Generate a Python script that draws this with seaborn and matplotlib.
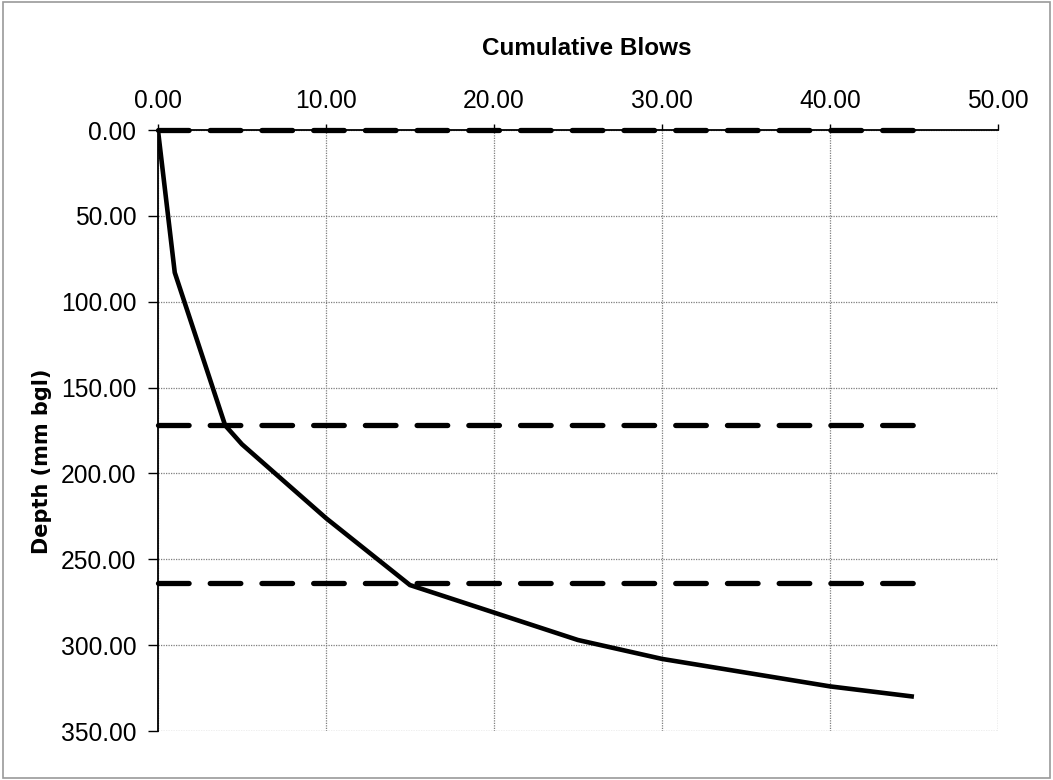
import matplotlib
matplotlib.use("Agg")
import matplotlib.pyplot as plt
import seaborn as sns
import pandas as pd
from matplotlib.patches import Rectangle

# Dynamic cone penetrometer test record
blows = [0, 1, 4, 5, 10, 15, 25, 30, 40, 45]
depth = [0, 83, 172, 183, 226, 265, 297, 308, 324, 330]

# Layer boundaries (mm below ground level) and their drawn extent in blows
layer_depths = [0, 172, 264]
layer_x_end = 45

x_ticks = [0, 10, 20, 30, 40, 50]
y_ticks = [0, 50, 100, 150, 200, 250, 300, 350]

sns.set_theme(style="white")
plt.rcParams["font.family"] = ["Liberation Sans", "DejaVu Sans"]

fig = plt.figure(figsize=(10.53, 7.80), dpi=100)
ax = fig.add_axes([0.150, 0.0628, 0.7977, 0.7705])

df = pd.DataFrame({"blows": blows, "depth": depth})
sns.lineplot(data=df, x="blows", y="depth", sort=False, estimator=None,
             color="black", linewidth=3.3, ax=ax, zorder=3,
             solid_capstyle="butt", solid_joinstyle="miter")

for d in layer_depths:
    ax.plot([0, layer_x_end], [d, d], color="black", linewidth=3.8,
            dashes=(5.8, 4.0), dash_capstyle="round", zorder=4, clip_on=False)

ax.set_xlim(0, 50)
ax.set_ylim(350, 0)
ax.set_xticks(x_ticks)
ax.set_yticks(y_ticks)
ax.set_xticklabels([f"{v:.2f}" for v in x_ticks])
ax.set_yticklabels([f"{v:.2f}" for v in y_ticks])

ax.xaxis.tick_top()
ax.xaxis.set_label_position("top")
ax.tick_params(axis="x", which="both", top=True, bottom=False, direction="out",
               length=4, width=1, color="black", pad=8.5, labelsize=17.7,
               labelcolor="black")
ax.tick_params(axis="y", which="both", left=True, direction="out",
               length=7, width=1, color="black", pad=8.5, labelsize=17.7,
               labelcolor="black")

ax.grid(True, color="#7f7f7f", linestyle=(0, (1, 1)), linewidth=0.9)
ax.set_axisbelow(True)

for side in ["right", "bottom"]:
    ax.spines[side].set_visible(False)
for side in ["left", "top"]:
    ax.spines[side].set_color("black")
    ax.spines[side].set_linewidth(1.3)
    ax.spines[side].set_zorder(5)

ax.set_xlabel("Cumulative Blows", fontsize=17.5, fontweight="bold",
              color="black", va="center")
ax.xaxis.set_label_coords(0.511, 1.135)

ax.set_ylabel("Depth (mm bgl)", fontsize=15, fontweight="bold", color="black",
              family=["DejaVu Sans"], va="center", ha="center")
ax.yaxis.set_label_coords(-0.138, 0.448)

# Thin grey frame around the chart area
fig.patches.append(Rectangle((0.003, 0.002), 0.994, 0.995, transform=fig.transFigure,
                             fill=False, edgecolor="#9a9a9a", linewidth=1.2))

fig.savefig("out.png", dpi=100, facecolor="white")
